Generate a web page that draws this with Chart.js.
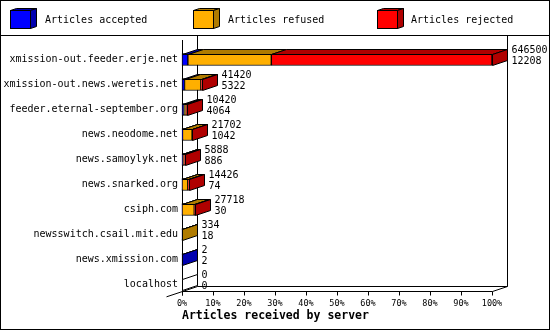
<!DOCTYPE html>
<html><head><meta charset="utf-8">
<script src="https://cdn.jsdelivr.net/npm/chart.js@4/dist/chart.umd.min.js"></script>
<style>html,body{margin:0;padding:0;background:#fff}canvas{display:block}</style>
</head><body>
<canvas id="c" width="550" height="330"></canvas>
<script>
// ---- data ----
const servers = ['xmission-out.feeder.erje.net','xmission-out.news.weretis.net','feeder.eternal-september.org','news.neodome.net','news.samoylyk.net','news.snarked.org','csiph.com','newsswitch.csail.mit.edu','news.xmission.com','localhost'];
const totals   = [646500, 41420, 10420, 21702, 5888, 14426, 27718, 334, 2, 0];
const accepted = [12208, 5322, 4064, 1042, 886, 74, 30, 18, 2, 0];
const refused  = [174000, 34000, 4500, 20000, 2500, 12000, 25500, 316, 0, 0];
const rejected = [460292, 2098, 1856, 660, 2502, 2352, 2188, 0, 0, 0];
const tickLabels = ['0%','10%','20%','30%','40%','50%','60%','70%','80%','90%','100%'];
const seriesNames = ['Articles accepted','Articles refused','Articles rejected'];
const axisTitle = 'Articles received by server';

// ---- styles ----
const frontColors = ['#0000FF','#FFAF00','#FF0000'];
const shadeColors = ['#0000B0','#B07B00','#B00000'];
const MONO = '"DejaVu Sans Mono", "Liberation Mono", monospace';
const DX = 15, DY = 5;

function poly(ctx, pts, fill) {
  ctx.beginPath();
  ctx.moveTo(pts[0][0], pts[0][1]);
  for (let k = 1; k < pts.length; k++) ctx.lineTo(pts[k][0], pts[k][1]);
  ctx.closePath();
  if (fill) { ctx.fillStyle = fill; ctx.fill(); }
  ctx.stroke();
}
function seg(ctx, x1, y1, x2, y2) { ctx.moveTo(x1, y1); ctx.lineTo(x2, y2); }

const threeD = {
  id: 'threeD',
  beforeDatasetsDraw(chart) {
    const {ctx, scales: {x, y}} = chart;
    const x0 = Math.round(x.getPixelForValue(0)) + 0.5;
    const x1 = Math.round(x.getPixelForValue(x.max)) + 0.5;
    const fy = Math.round(y.getPixelForValue(servers.length - 1) + 6) + 0.5;
    ctx.save();
    ctx.strokeStyle = '#000'; ctx.lineWidth = 1;
    ctx.beginPath();
    seg(ctx, x0 + DX, 36, x0 + DX, fy - DY);
    seg(ctx, x1 + DX, 36, x1 + DX, fy - DY);
    seg(ctx, x0 + DX, fy - DY, x1 + DX, fy - DY);
    seg(ctx, x0, fy, x1, fy);
    seg(ctx, x0 - 16, fy + 16 * DY / DX, x0 + DX, fy - DY);
    seg(ctx, x1, fy, x1 + DX, fy - DY);
    seg(ctx, x0, 40, x0, fy + 4);
    x.ticks.forEach((t, i) => {
      const px = Math.round(x.getPixelForTick(i)) + 0.5;
      seg(ctx, px, fy, px, fy + 4);
    });
    ctx.stroke();
    ctx.restore();
  },
  afterDatasetsDraw(chart) {
    const {ctx, scales: {x}} = chart;
    const metas = chart.data.datasets.map((d, k) => chart.getDatasetMeta(k));
    ctx.save();
    ctx.strokeStyle = '#000'; ctx.lineWidth = 1;
    servers.forEach((s, i) => {
      let lastK = -1, endX = Math.round(x.getPixelForValue(0)), yc = 0, h = 12;
      metas.forEach((m, k) => {
        const el = m.data[i];
        const p = el.getProps(['x', 'y', 'base', 'height'], true);
        yc = p.y; h = p.height;
        const v = chart.data.datasets[k].data[i];
        if (v > 0) {
          lastK = k;
          const a = Math.round(p.base) + 0.5, b = Math.round(p.x) + 0.5;
          const yt = Math.round(p.y - p.height / 2) + 0.5;
          poly(ctx, [[a, yt], [a + DX, yt - DY], [b + DX, yt - DY], [b, yt]], shadeColors[k]);
          endX = Math.round(p.x);
        }
      });
      const yt = Math.round(yc - h / 2) + 0.5, yb = Math.round(yc + h / 2) - 0.5;
      const e = endX + 0.5;
      poly(ctx, [[e, yt], [e + DX, yt - DY], [e + DX, yb - DY], [e, yb]], lastK >= 0 ? shadeColors[lastK] : '#FFFFFF');
      ctx.fillStyle = '#000';
      ctx.font = '10px ' + MONO;
      ctx.textAlign = 'left'; ctx.textBaseline = 'middle';
      ctx.fillText(String(totals[i]), endX + 19.5, yc - 9);
      ctx.fillText(String(accepted[i]), endX + 19.5, yc + 2);
    });
    ctx.restore();
  },
  afterDraw(chart) {
    const {ctx} = chart;
    ctx.save();
    ctx.strokeStyle = '#000'; ctx.lineWidth = 1;
    const lx = [10, 193, 377], tx = [45, 228, 411];
    seriesNames.forEach((n, k) => {
      const x0 = lx[k] + 0.5, y0 = 10.5, w = 20, hh = 18;
      ctx.fillStyle = frontColors[k];
      ctx.fillRect(x0, y0, w, hh); ctx.strokeRect(x0, y0, w, hh);
      poly(ctx, [[x0, y0], [x0 + 6, y0 - 2], [x0 + w + 6, y0 - 2], [x0 + w, y0]], shadeColors[k]);
      poly(ctx, [[x0 + w, y0], [x0 + w + 6, y0 - 2], [x0 + w + 6, y0 + hh - 2], [x0 + w, y0 + hh]], shadeColors[k]);
      ctx.fillStyle = '#000';
      ctx.font = '10px ' + MONO;
      ctx.textAlign = 'left'; ctx.textBaseline = 'middle';
      ctx.fillText(n, tx[k], 20);
    });
    ctx.beginPath();
    seg(ctx, 0, 35.5, 550, 35.5);
    ctx.stroke();
    ctx.strokeRect(0.5, 0.5, 549, 329);
    ctx.restore();
  }
};

const valueSeries = [accepted, refused, rejected];
new Chart(document.getElementById('c'), {
  type: 'bar',
  data: {
    labels: servers,
    datasets: valueSeries.map((arr, k) => ({
      label: seriesNames[k],
      data: arr,
      backgroundColor: frontColors[k],
      borderColor: '#000',
      borderWidth: 1,
      borderSkipped: false,
      barThickness: 12,
      clip: false
    }))
  },
  options: {
    indexAxis: 'y',
    responsive: false,
    animation: false,
    events: [],
    layout: { padding: { left: 0, right: 58, top: 47, bottom: 0 } },
    plugins: { legend: { display: false }, tooltip: { enabled: false } },
    scales: {
      x: {
        stacked: true,
        min: 0,
        max: Math.max(...totals),
        afterBuildTicks(scale) {
          scale.ticks = tickLabels.map((t, i) => ({ value: scale.max * i / (tickLabels.length - 1) }));
        },
        afterFit(scale) { scale.height = 33; },
        grid: { display: false, drawTicks: false },
        border: { display: false },
        ticks: {
          padding: 2,
          autoSkip: false,
          maxRotation: 0,
          color: '#000',
          font: { family: MONO, size: 8.5 },
          callback: (v, i) => tickLabels[i]
        },
        title: {
          display: true,
          text: axisTitle,
          align: 'start',
          color: '#000',
          font: { family: MONO, size: 11.5, weight: 'bold' },
          padding: { top: 0, bottom: 7 }
        }
      },
      y: {
        stacked: true,
        afterFit(scale) { scale.width = 182; },
        grid: { display: false, drawTicks: false },
        border: { display: false },
        ticks: {
          padding: 4,
          color: '#000',
          font: { family: MONO, size: 10 }
        }
      }
    }
  },
  plugins: [threeD]
});
</script>
</body></html>
